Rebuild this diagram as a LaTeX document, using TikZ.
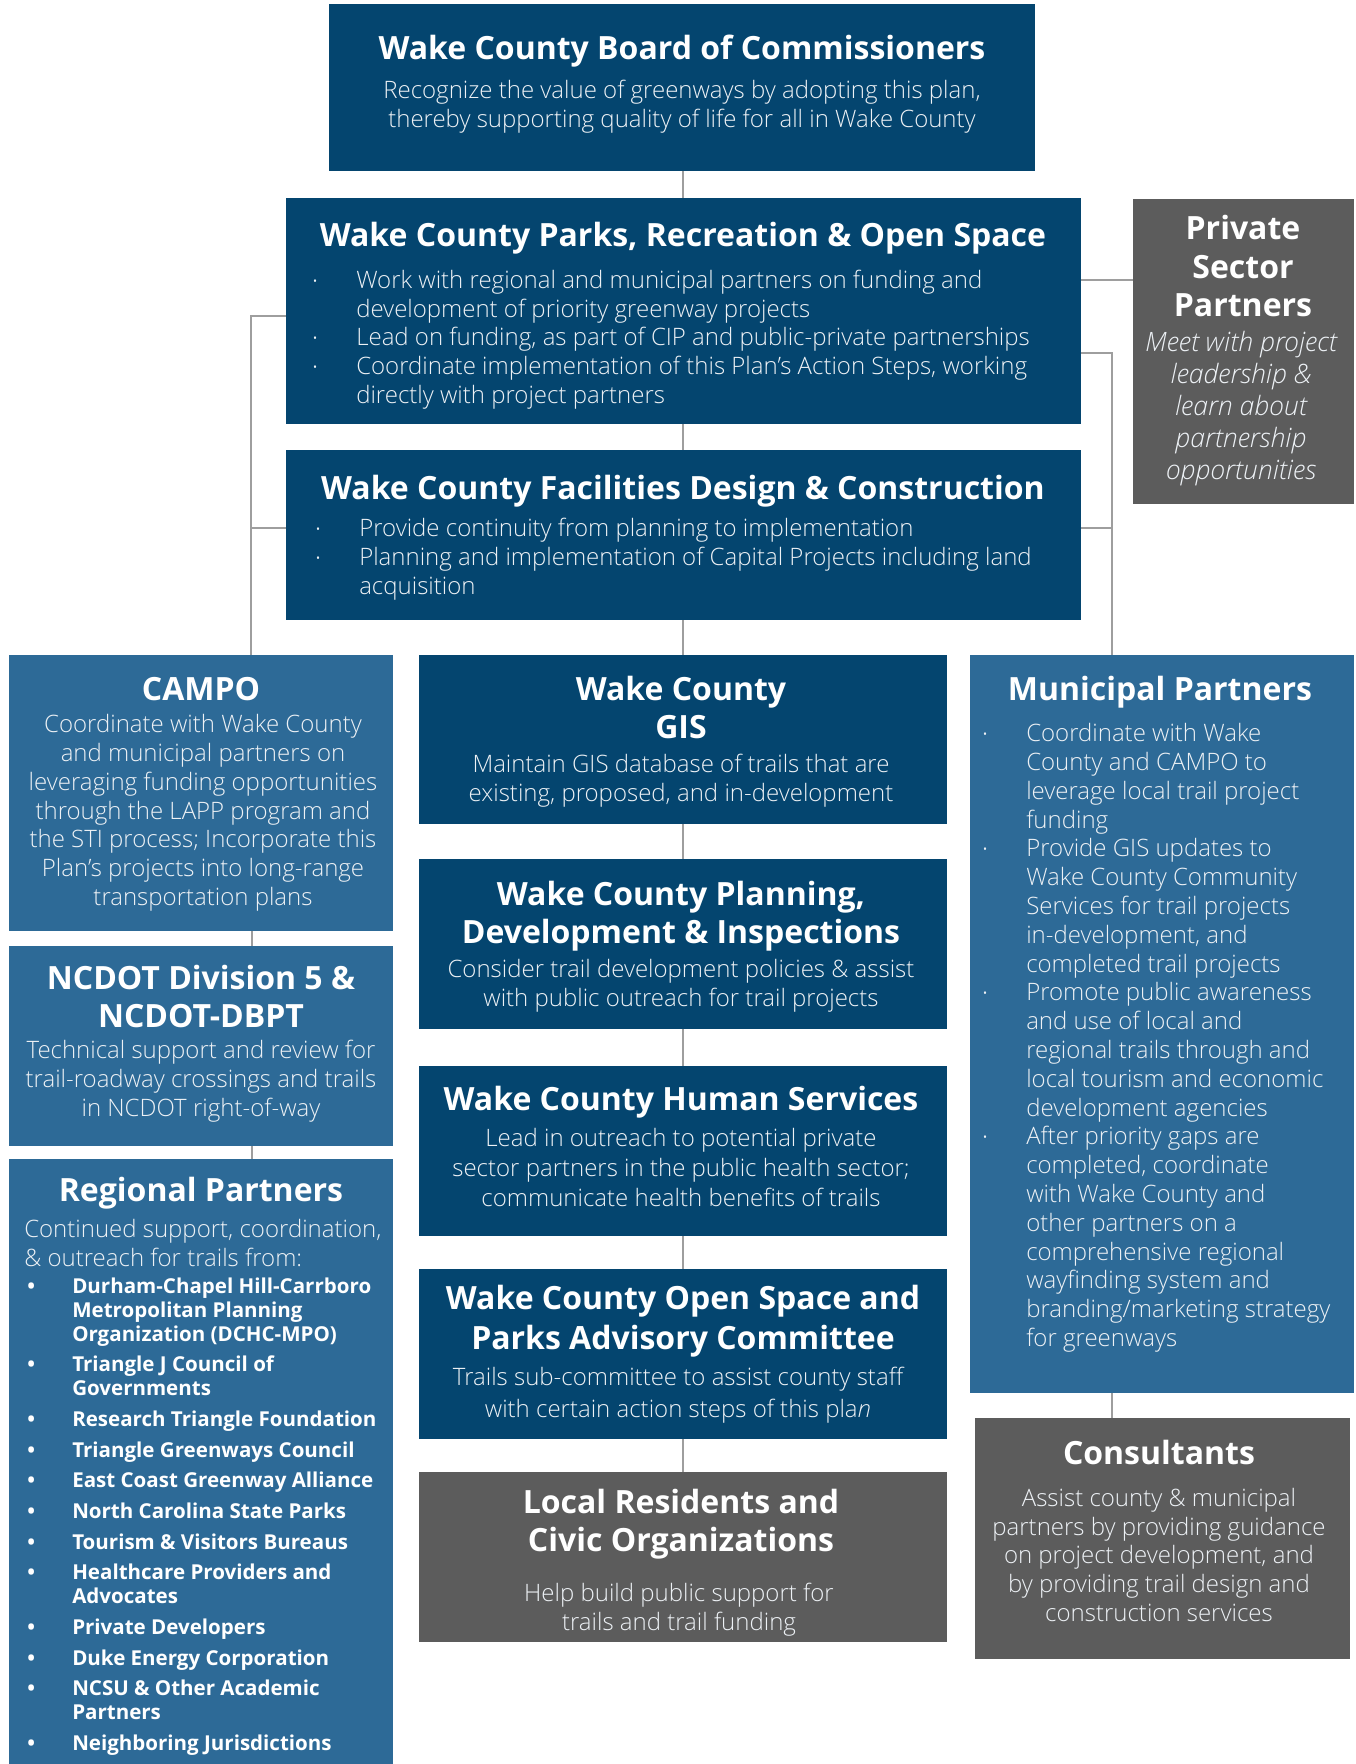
\documentclass[tikz,border=0pt]{standalone}
\usepackage{fontspec}
\IfFontExistsTF{Open Sans Light}{%
  \setmainfont{Open Sans Light}[BoldFont={Open Sans Bold},ItalicFont={Open Sans Light Italic},BoldItalicFont={Open Sans Bold Italic}]}
  {\setmainfont{Open Sans}}
\definecolor{dblue}{HTML}{04456F}
\definecolor{mblue}{HTML}{2D6A97}
\definecolor{dgray}{HTML}{5C5C5C}
\definecolor{lgray}{HTML}{9E9E9E}
\definecolor{txt}{HTML}{EDF1F5}
\newlength\px \setlength\px{0.75pt}
\newcommand\bul{\makebox[44\px][l]{\fontsize{11}{11}\selectfont\raisebox{0.3ex}{\textbullet}}}
\newcommand\ind{\hspace*{44\px}}
\newcommand\rbul{\makebox[45\px][l]{\textbullet}}
\newcommand\rind{\hspace*{45\px}}
\newcommand\mkbox[6]{\node[#2,minimum width={(#5-#3)*0.75pt},minimum height={(#6-#4)*0.75pt}] (#1) at (#3,#4) {};}
\begin{document}
\begin{tikzpicture}[x=0.75pt,y=-0.75pt,
  box/.style={draw=none,inner sep=0,outer sep=0,anchor=north west},
  db/.style={box,fill=dblue}, mb/.style={box,fill=mblue}, gb/.style={box,fill=dgray},
  ttl/.style={text=white,font=\fontsize{24}{28.8}\selectfont\bfseries,align=center,inner sep=0,anchor=mid,yshift=-1.8pt},
  bdy/.style={text=txt,font=\fontsize{18}{21.6}\selectfont,align=center,inner sep=0,anchor=mid},
  lst/.style={text=txt,font=\fontsize{18}{21.6}\selectfont,align=left,inner sep=0,anchor=mid west},
  conn/.style={draw=lgray,line width=1.6pt}]
\useasboundingbox[fill=white] (0,0) rectangle (1356,1764);
% boxes
\mkbox{board}{db}{329}{4}{1035}{171}
\mkbox{parks}{db}{286}{198}{1081}{424}
\mkbox{private}{gb}{1133}{199}{1354}{504}
\mkbox{fac}{db}{286}{450}{1081}{620}
\mkbox{campo}{mb}{9}{655}{393}{931}
\mkbox{ncdot}{mb}{9}{946}{393}{1146}
\mkbox{regional}{mb}{9}{1159}{393}{1764}
\mkbox{gis}{db}{419}{655}{947}{824}
\mkbox{planning}{db}{419}{859}{947}{1029}
\mkbox{human}{db}{419}{1066}{947}{1236}
\mkbox{advisory}{db}{419}{1269}{947}{1439}
\mkbox{local}{gb}{419}{1472}{947}{1642}
\mkbox{muni}{mb}{970}{655}{1354}{1393}
\mkbox{consult}{gb}{975}{1418}{1350}{1659}
% connectors
\coordinate (L1) at (251,316);
\coordinate (L2) at (251,528);
\coordinate (L3) at (252,0);
\coordinate (R1) at (1112,353);
\coordinate (R2) at (1112,528);
\coordinate (P1) at (1133,280);
\coordinate (M1) at (683,0);
\draw[conn] (board.south -| M1) -- (parks.north -| M1);
\draw[conn] (parks.south -| M1) -- (fac.north -| M1);
\draw[conn] (fac.south -| M1) -- (gis.north -| M1);
\draw[conn] (gis.south -| M1) -- (planning.north -| M1);
\draw[conn] (planning.south -| M1) -- (human.north -| M1);
\draw[conn] (human.south -| M1) -- (advisory.north -| M1);
\draw[conn] (advisory.south -| M1) -- (local.north -| M1);
\draw[conn] (parks.west |- L1) -- (L1) -- (L1 |- campo.north);
\draw[conn] (fac.west |- L2) -- (L2);
\draw[conn] (parks.east |- R1) -- (R1) -- (R1 |- muni.north);
\draw[conn] (fac.east |- R2) -- (R2);
\draw[conn] (parks.east |- P1) -- (private.west |- P1);
\draw[conn] (campo.south -| L3) -- (ncdot.north -| L3);
\draw[conn] (ncdot.south -| L3) -- (regional.north -| L3);
\draw[conn] (muni.south -| R1) -- (consult.north -| R1);
% texts (anchors refer to the last line)
\node[ttl] (boardT) at (682,53.5) {Wake County Board of Commissioners};
\node[bdy] (boardB) at (682,124) {Recognize the value of greenways by adopting this plan,\\thereby supporting quality of life for all in Wake County};
\node[ttl] (parksT) at (683,240.5) {Wake County Parks, Recreation \& Open Space};
\node[lst] (parksB) at (312,400) {\bul Work with regional and municipal partners on funding and\\\ind development of priority greenway projects\\\bul Lead on funding, as part of CIP and public-private partnerships\\\bul Coordinate implementation of this Plan’s Action Steps, working\\\ind directly with project partners};
\node[ttl] (facT) at (683,493.5) {Wake County Facilities Design \& Construction};
\node[lst] (facB) at (315,591) {\bul Provide continuity from planning to implementation\\\bul Planning and implementation of Capital Projects including land\\\ind acquisition};
\node[ttl] (privateT) at (1243,310.5) {Private\\Sector\\Partners};
\node[bdy,font=\fontsize{20}{24}\selectfont\itshape] (privateB) at (1241,476) {Meet with project\\leadership \&\\learn about\\partnership\\opportunities};
\node[ttl] (campoT) at (201,694.5) {CAMPO};
\node[bdy] (campoB) at (203,902) {Coordinate with Wake County\\and municipal partners on\\leveraging funding opportunities\\through the LAPP program and\\the STI process; Incorporate this\\Plan’s projects into long-range\\transportation plans};
\node[ttl] (ncdotT) at (201,1021.5) {NCDOT Division 5 \&\\NCDOT-DBPT};
\node[bdy] (ncdotB) at (201,1113) {Technical support and review for\\trail-roadway crossings and trails\\in NCDOT right-of-way};
\node[ttl] (regionalT) at (201,1195.5) {Regional Partners};
\node[lst] (regionalB) at (24,1263) {Continued support, coordination,\\\& outreach for trails from:};
\node[lst,font=\fontsize{15.4}{18}\selectfont\bfseries,text=white] (regionalL) at (27,1747) {\rbul Durham-Chapel Hill-Carrboro\\\rind Metropolitan Planning\\\rind Organization (DCHC-MPO)\\[5pt]
\rbul Triangle J Council of\\\rind Governments\\[5pt]
\rbul Research Triangle Foundation\\[5pt]
\rbul Triangle Greenways Council\\[5pt]
\rbul East Coast Greenway Alliance\\[5pt]
\rbul North Carolina State Parks\\[5pt]
\rbul Tourism \& Visitors Bureaus\\[5pt]
\rbul Healthcare Providers and\\\rind Advocates\\[5pt]
\rbul Private Developers\\[5pt]
\rbul Duke Energy Corporation\\[5pt]
\rbul NCSU \& Other Academic\\\rind Partners\\[5pt]
\rbul Neighboring Jurisdictions};
\node[ttl] (gisT) at (681,732.5) {Wake County\\GIS};
\node[bdy] (gisB) at (681,798) {Maintain GIS database of trails that are\\existing, proposed, and in-development};
\node[ttl] (planningT) at (681,937.5) {Wake County Planning,\\Development \& Inspections};
\node[bdy] (planningB) at (681,1003) {Consider trail development policies \& assist\\with public outreach for trail projects};
\node[ttl] (humanT) at (681,1104.5) {Wake County Human Services};
\node[bdy,font=\fontsize{18}{22.5}\selectfont] (humanB) at (681,1203) {Lead in outreach to potential private\\sector partners in the public health sector;\\communicate health benefits of trails};
\node[ttl,font=\fontsize{24}{30}\selectfont\bfseries] (advisoryT) at (683,1343.5) {Wake County Open Space and\\Parks Advisory Committee};
\node[bdy,font=\fontsize{18}{24}\selectfont] (advisoryB) at (678,1414) {Trails sub-committee to assist county staff\\with certain action steps of this pla\textit{n}};
\node[ttl] (localT) at (681,1545.5) {Local Residents and\\Civic Organizations};
\node[bdy] (localB) at (679,1627) {Help build public support for\\trails and trail funding};
\node[ttl] (muniT) at (1160,694.5) {Municipal Partners};
\node[lst] (muniB) at (982,1343) {\bul Coordinate with Wake\\\ind County and CAMPO to\\\ind leverage local trail project\\\ind funding\\
\bul Provide GIS updates to\\\ind Wake County Community\\\ind Services for trail projects\\\ind in-development, and\\\ind completed trail projects\\
\bul Promote public awareness\\\ind and use of local and\\\ind regional trails through and\\\ind local tourism and economic\\\ind development agencies\\
\bul After priority gaps are\\\ind completed, coordinate\\\ind with Wake County and\\\ind other partners on a\\\ind comprehensive regional\\\ind wayfinding system and\\\ind branding/marketing strategy\\\ind for greenways};
\node[ttl] (consultT) at (1159,1458.5) {Consultants};
\node[bdy] (consultB) at (1159,1618) {Assist county \& municipal\\partners by providing guidance\\on project development, and\\by providing trail design and\\construction services};
\end{tikzpicture}
\end{document}
